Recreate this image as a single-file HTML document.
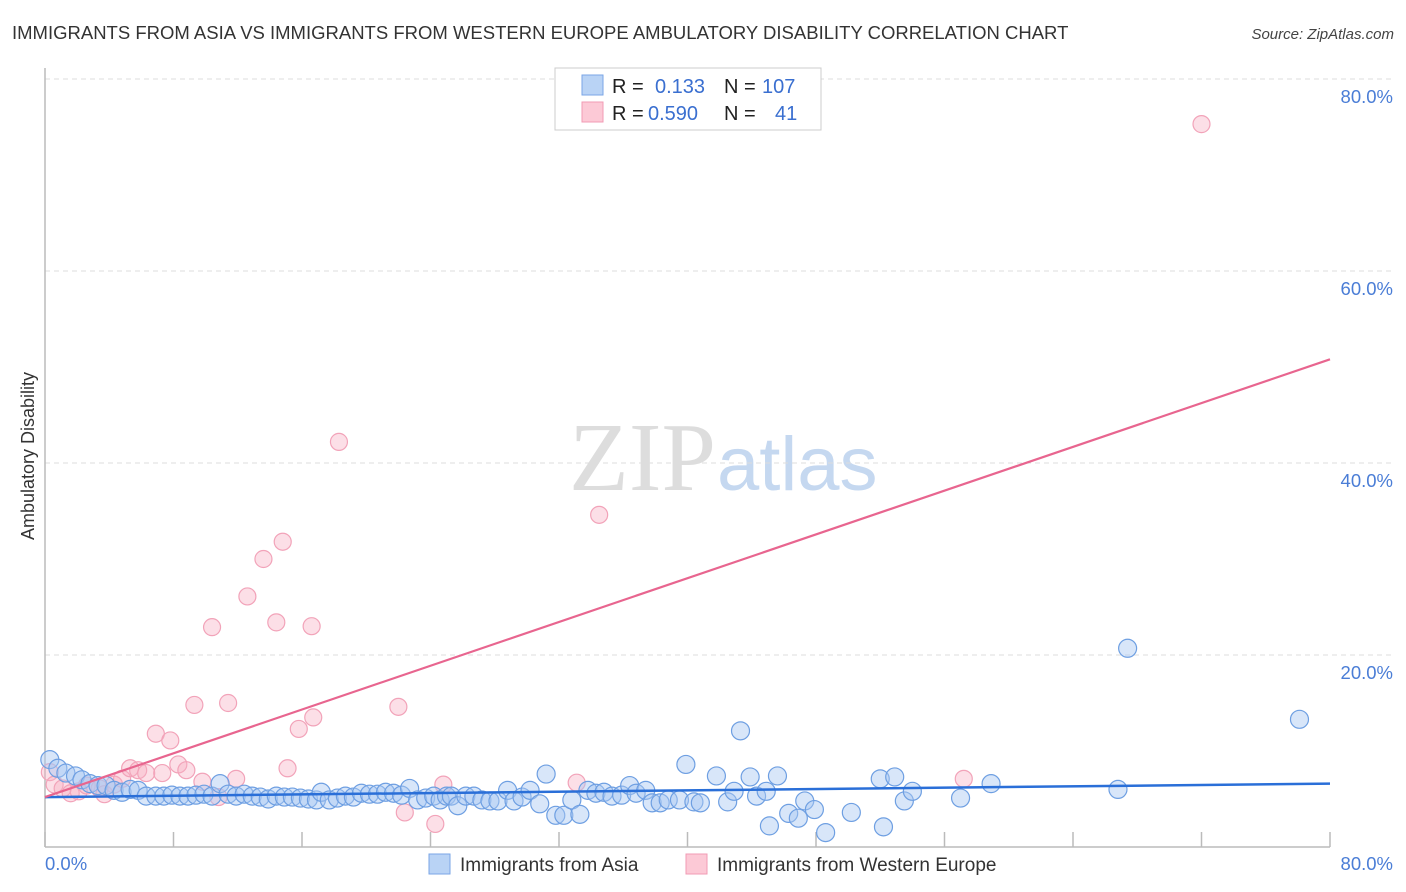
<!DOCTYPE html>
<html><head><meta charset="utf-8"><style>
html,body{margin:0;padding:0;background:#fff;}
svg{display:block;font-family:"Liberation Sans",sans-serif;}
</style></head><body>
<svg id="chart" width="1406" height="892" viewBox="0 0 1406 892">
<text x="12" y="39" font-size="18.5" fill="#333">IMMIGRANTS FROM ASIA VS IMMIGRANTS FROM WESTERN EUROPE AMBULATORY DISABILITY CORRELATION CHART</text>
<text x="1394" y="39" font-size="15" fill="#444" font-style="italic" text-anchor="end">Source: ZipAtlas.com</text>
<text x="716" y="490" font-size="98" fill="#ddd" text-anchor="end" font-family="Liberation Serif,serif">ZIP</text>
<text x="717" y="490" font-size="76" fill="#c5d8f0">atlas</text>
<g id="grid"></g>
<line x1="45" y1="68" x2="45" y2="847" stroke="#bbb" stroke-width="1.5"/>
<line x1="45" y1="847" x2="1330" y2="847" stroke="#bbb" stroke-width="1.5"/>
<g id="xticks"></g>
<text transform="translate(34,456) rotate(-90)" font-size="18" fill="#333" text-anchor="middle">Ambulatory Disability</text>
<g id="pts"></g>
<g id="lines"></g>
<g>
<rect x="555" y="68" width="266" height="62" fill="#fff" stroke="#ccc"/>
<rect x="582" y="75" width="21" height="20" fill="#b9d3f5" stroke="#7aa6e6"/>
<rect x="582" y="102" width="21" height="20" fill="#fcc9d6" stroke="#f29bb4"/>
<text y="93" font-size="20"><tspan x="612" fill="#222">R = </tspan><tspan x="655" fill="#3a6fd0">0.133</tspan><tspan x="724" fill="#222">N = </tspan><tspan x="762" fill="#3a6fd0">107</tspan></text>
<text y="120" font-size="20"><tspan x="612" fill="#222">R = </tspan><tspan x="648" fill="#3a6fd0">0.590</tspan><tspan x="724" fill="#222">N = </tspan><tspan x="775" fill="#3a6fd0">41</tspan></text>
</g>
<text x="45" y="870" font-size="18.5" fill="#4a7dd6">0.0%</text>
<text x="1393" y="870" font-size="18.5" fill="#4a7dd6" text-anchor="end">80.0%</text>
<g>
<rect x="429" y="854" width="21" height="20" fill="#b9d3f5" stroke="#7aa6e6"/>
<text x="460" y="871" font-size="19" fill="#333">Immigrants from Asia</text>
<rect x="686" y="854" width="21" height="20" fill="#fcc9d6" stroke="#f29bb4"/>
<text x="717" y="871" font-size="19" fill="#333">Immigrants from Western Europe</text>
</g>
</svg>
<script>
const yTicks=[20,40,60,80];
const xTickVals=[0,8,16,24,32,40,48,56,64,72,80];
const asiaX=[0.3,0.8,1.3,1.9,2.3,2.8,3.3,3.8,4.3,4.8,5.3,5.8,6.3,6.9,7.4,7.9,8.4,8.9,9.4,9.9,10.4,10.9,11.4,11.9,12.4,12.9,13.4,13.9,14.4,14.9,15.4,15.9,16.4,16.9,17.2,17.7,18.2,18.7,19.2,19.7,20.2,20.7,21.2,21.7,22.2,22.7,23.2,23.7,24.2,24.6,25.0,25.3,25.7,26.2,26.7,27.2,27.7,28.2,28.8,29.2,29.7,30.2,30.8,31.2,31.8,32.3,32.8,33.3,33.8,34.3,34.8,35.3,35.9,36.4,36.8,37.4,37.8,38.3,38.8,39.5,39.9,40.4,40.8,41.8,42.5,42.9,43.3,43.9,44.3,44.9,45.1,45.6,46.3,46.9,47.3,47.9,48.6,50.2,52.0,52.2,52.9,53.5,54.0,57.0,58.9,66.8,67.4,78.1];
const asiaY=[9.1,8.2,7.7,7.4,7.0,6.6,6.4,6.4,5.9,5.7,6.0,5.9,5.3,5.3,5.3,5.4,5.3,5.3,5.4,5.5,5.3,6.6,5.5,5.3,5.5,5.3,5.2,5.0,5.3,5.2,5.2,5.1,5.0,4.9,5.7,4.9,5.1,5.3,5.2,5.6,5.5,5.5,5.7,5.6,5.4,6.1,4.9,5.1,5.3,4.9,5.3,5.3,4.3,5.3,5.3,4.9,4.8,4.8,5.9,4.8,5.2,5.9,4.5,7.6,3.3,3.3,4.9,3.4,5.9,5.6,5.7,5.3,5.4,6.4,5.6,5.9,4.6,4.6,4.9,4.9,8.6,4.7,4.6,7.4,4.7,5.8,12.1,7.3,5.3,5.8,2.2,7.4,3.5,3.0,4.8,3.9,1.5,3.6,7.1,2.1,7.3,4.8,5.8,5.1,6.6,6.0,20.7,13.3];
const euroX=[0.3,0.6,1.1,1.6,2.1,2.6,3.4,3.7,4.3,4.8,5.3,5.8,6.3,6.9,7.3,7.8,8.3,8.8,9.3,9.8,10.4,10.8,11.4,11.9,12.6,13.6,14.4,14.8,15.1,15.8,16.6,16.7,18.3,22.0,22.4,24.3,24.8,33.1,34.5,57.2,72.0];
const euroY=[7.8,6.5,6.1,5.6,5.8,6.4,6.1,5.5,6.5,7.1,8.2,8.0,7.7,11.8,7.7,11.1,8.6,8.0,14.8,6.8,22.9,5.2,15.0,7.1,26.1,30.0,23.4,31.8,8.2,12.3,23.0,13.5,42.2,14.6,3.6,2.4,6.5,6.7,34.6,7.1,75.3];
const asiaTrend=[5.2,6.6];
const euroTrend=[5.2,50.8];
const NS="http://www.w3.org/2000/svg";
function sx(v){return 45+v*(1285/80);}
function sy(v){return 847-v*9.6;}
function mk(tag,attrs,parent){const e=document.createElementNS(NS,tag);for(const k in attrs)e.setAttribute(k,attrs[k]);parent.appendChild(e);return e;}
const grid=document.getElementById('grid');
yTicks.forEach(t=>{
 const l=mk('line',{x1:45,x2:1393,y1:sy(t),y2:sy(t),stroke:'#ddd','stroke-dasharray':'5,4'},grid);
 
 
 const tx=mk('text',{x:1393,y:sy(t)+24,'font-size':18.5,fill:'#4a7dd6','text-anchor':'end'},grid);
 tx.textContent=t.toFixed(1)+'%';
 
 
});
const xt=document.getElementById('xticks');
xTickVals.forEach(t=>{
 const l=mk('line',{x1:sx(t),x2:sx(t),y1:832,y2:847,stroke:'#bbb','stroke-width':1.5},xt);
 
 
});
const pts=document.getElementById('pts');
euroX.forEach((x,i)=>{
 const c=mk('circle',{cx:sx(x),cy:sy(euroY[i]),r:8.5,fill:'rgba(248,175,196,0.4)',stroke:'#f2a3b9','stroke-width':1.2},pts);
 
 
});
asiaX.forEach((x,i)=>{
 const c=mk('circle',{cx:sx(x),cy:sy(asiaY[i]),r:9,fill:'rgba(168,200,242,0.45)',stroke:'#6e9fe2','stroke-width':1.2},pts);
 
 
});
const lines=document.getElementById('lines');
const bl=mk('line',{x1:sx(0),y1:sy(asiaTrend[0]),x2:sx(80),y2:sy(asiaTrend[1]),stroke:'#2a6fd8','stroke-width':2.5},lines);


const pl=mk('line',{x1:sx(0),y1:sy(euroTrend[0]),x2:sx(80),y2:sy(euroTrend[1]),stroke:'#e8658f','stroke-width':2.2},lines);


</script>
</body></html>
